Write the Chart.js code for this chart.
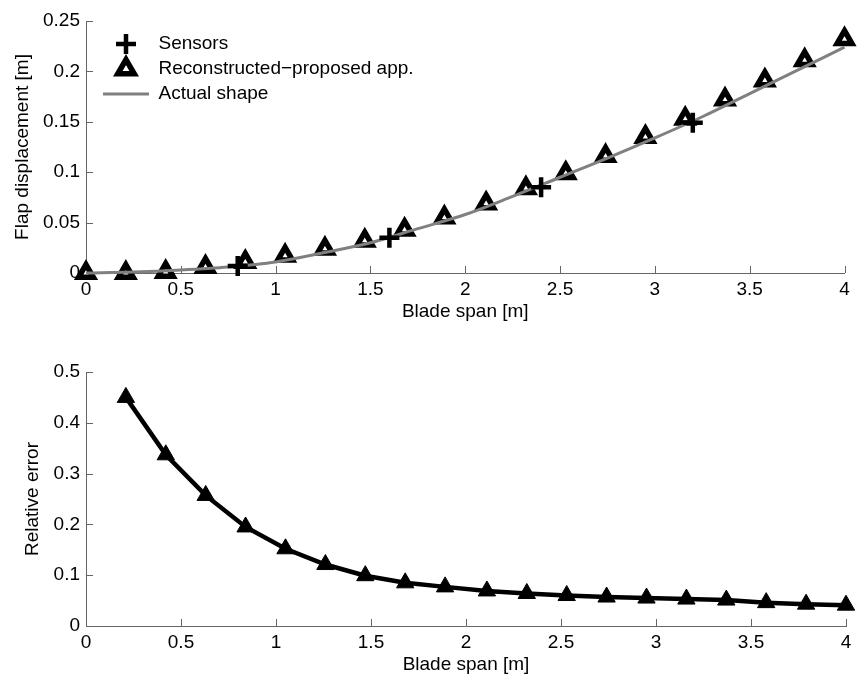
<!DOCTYPE html>
<html>
<head>
<meta charset="utf-8">
<title>Flap displacement and relative error</title>
<script src="https://cdn.jsdelivr.net/npm/chart.js@4.4.1/dist/chart.umd.min.js"></script>
<style>
body { margin: 0; background: #fff; }
#top_box { position: absolute; left: 0; top: 0; width: 859px; height: 330px; }
#bottom_box { position: absolute; left: 0; top: 330px; width: 859px; height: 349px; }
</style>
</head>
<body>
<div id="top_box"><canvas id="chart_top"></canvas></div>
<div id="bottom_box"><canvas id="chart_bottom"></canvas></div>
<script>
// blade span stations of the reconstruction [m]
var spanX   = [0, 0.21, 0.42, 0.63, 0.84, 1.05, 1.26, 1.47, 1.68, 1.89, 2.11, 2.32, 2.53, 2.74, 2.95, 3.16, 3.37, 3.58, 3.79, 4.0];
var reconY  = [0.000, 0.000, 0.001, 0.006, 0.011, 0.017, 0.024, 0.032, 0.043, 0.055, 0.069, 0.084, 0.099, 0.116, 0.135, 0.153, 0.172, 0.191, 0.211, 0.232];

var sensorX = [0.8, 1.6, 2.4, 3.2];
var sensorY = [0.007, 0.035, 0.085, 0.149];

var shapeX  = [0, 0.25, 0.5, 0.75, 1.0, 1.25, 1.5, 1.75, 2.0, 2.25, 2.5, 2.75, 3.0, 3.25, 3.5, 3.75, 4.0];
var shapeY  = [0.000, 0.001, 0.003, 0.006, 0.011, 0.020, 0.030, 0.044, 0.058, 0.076, 0.095, 0.114, 0.134, 0.155, 0.178, 0.201, 0.224];

var errorX  = [0.21, 0.42, 0.63, 0.84, 1.05, 1.26, 1.47, 1.68, 1.89, 2.11, 2.32, 2.53, 2.74, 2.95, 3.16, 3.37, 3.58, 3.79, 4.0];
var errorY  = [0.450, 0.337, 0.257, 0.195, 0.152, 0.121, 0.099, 0.085, 0.077, 0.069, 0.064, 0.060, 0.057, 0.055, 0.053, 0.051, 0.046, 0.043, 0.041];

var spanTicks  = [0, 0.5, 1, 1.5, 2, 2.5, 3, 3.5, 4];
var dispTicks  = [0, 0.05, 0.1, 0.15, 0.2, 0.25];
var errorTicks = [0, 0.1, 0.2, 0.3, 0.4, 0.5];

var axisColor = '#666';

Chart.defaults.font.family = "'Liberation Sans', Arial, Helvetica, sans-serif";
Chart.defaults.font.size = 19;
Chart.defaults.color = '#000';

function toPoints(xs, ys){
    return xs.map(function(x, i){ return {x: x, y: ys[i]}; });
}

function fixedTicks(values){
    return function(scale){
        scale.ticks = values.map(function(v){ return {value: v}; });
    };
}

function plainNumber(v){
    return String(Number(v.toFixed(4)));
}

// small marker pictures for the legend, drawn with chart.js' own point helper
function markerIcon(style, radius, lineWidth, fill){
    var c = document.createElement('canvas');
    c.width = 32;
    c.height = 32;
    var ctx = c.getContext('2d');
    ctx.strokeStyle = '#000';
    ctx.fillStyle = fill;
    ctx.lineWidth = lineWidth;
    Chart.helpers.drawPoint(ctx, {pointStyle: style, radius: radius, borderWidth: lineWidth, rotation: 0}, 16, 16);
    return c;
}
var legendIcons = {
    0: markerIcon('cross', 10, 4.5, '#000'),
    1: markerIcon('triangle', 9.5, 5.5, '#fff')
};

// matlab style ticks, drawn inward from the axis lines
var innerTicks = {
    id: 'innerTicks',
    beforeDatasetsDraw: function(chart){
        var ctx = chart.ctx, a = chart.chartArea;
        var xs = chart.scales.x, ys = chart.scales.y;
        ctx.save();
        ctx.strokeStyle = axisColor;
        ctx.lineWidth = 1;
        ctx.beginPath();
        xs.ticks.forEach(function(t){
            var px = Math.round(xs.getPixelForValue(t.value)) + 0.5;
            ctx.moveTo(px, a.bottom);
            ctx.lineTo(px, a.bottom - 7);
        });
        ys.ticks.forEach(function(t){
            var py = Math.round(ys.getPixelForValue(t.value)) + 0.5;
            ctx.moveTo(a.left, py);
            ctx.lineTo(a.left + 7, py);
        });
        ctx.stroke();
        ctx.restore();
    }
};

// put the legend box inside the axes, near the top left corner
var legendInside = {
    id: 'legendInside',
    afterLayout: function(chart){
        if (!chart.legend) return;
        chart.legend.left = chart.chartArea.left + 11;
        chart.legend.top = chart.chartArea.top + 7.5;
    }
};

function spanAxis(){
    return {
        type: 'linear',
        min: 0,
        max: 4,
        afterBuildTicks: fixedTicks(spanTicks),
        afterFit: function(scale){ scale.height = 50; },
        ticks: { padding: 5, maxRotation: 0, autoSkip: false, callback: plainNumber },
        grid: { display: false, drawTicks: false },
        border: { display: true, color: axisColor, width: 1 },
        title: { display: true, text: 'Blade span [m]', padding: {top: 0, bottom: 0} }
    };
}

function valueAxis(max, ticks, text, titlePad){
    return {
        type: 'linear',
        min: 0,
        max: max,
        afterBuildTicks: fixedTicks(ticks),
        afterFit: function(scale){ scale.width = 86; },
        ticks: { padding: 6, autoSkip: false, callback: plainNumber },
        grid: { display: false, drawTicks: false },
        border: { display: true, color: axisColor, width: 1 },
        title: { display: true, text: text, padding: {top: titlePad, bottom: 0} }
    };
}

var topChart = new Chart(document.getElementById('chart_top'), {
    type: 'scatter',
    data: {
        datasets: [{
            label: 'Sensors',
            data: toPoints(sensorX, sensorY),
            showLine: false,
            pointStyle: 'cross',
            pointRadius: 10,
            pointBorderWidth: 4.5,
            pointBorderColor: '#000',
            pointBackgroundColor: '#000',
            borderColor: '#000',
            clip: false,
            order: 0
        }, {
            label: 'Reconstructed\u2212proposed app.',
            data: toPoints(spanX, reconY),
            showLine: false,
            pointStyle: 'triangle',
            pointRadius: 8.5,
            pointBorderWidth: 5.5,
            pointBorderColor: '#000',
            pointBackgroundColor: '#fff',
            borderColor: '#000',
            clip: false,
            order: 2
        }, {
            label: 'Actual shape',
            data: toPoints(shapeX, shapeY),
            showLine: true,
            cubicInterpolationMode: 'monotone',
            borderColor: '#808080',
            borderWidth: 3,
            pointStyle: 'line',
            pointRadius: 0,
            pointBorderWidth: 3,
            pointBorderColor: '#808080',
            pointBackgroundColor: '#808080',
            clip: false,
            order: 1
        }]
    },
    options: {
        responsive: true,
        maintainAspectRatio: false,
        animation: false,
        layout: { padding: {left: 0, top: 21, right: 13, bottom: 7} },
        scales: {
            x: spanAxis(),
            y: valueAxis(0.25, dispTicks, 'Flap displacement [m]', 11)
        },
        plugins: {
            tooltip: { enabled: false },
            legend: {
                position: 'chartArea',
                align: 'start',
                labels: {
                    usePointStyle: true,
                    pointStyleWidth: 46,
                    boxHeight: 14,
                    padding: 6,
                    color: '#000',
                    font: { size: 19 },
                    generateLabels: function(chart){
                        var items = Chart.defaults.plugins.legend.labels.generateLabels(chart);
                        items.forEach(function(item){
                            if (legendIcons[item.datasetIndex]) item.pointStyle = legendIcons[item.datasetIndex];
                        });
                        return items;
                    },
                    sort: function(a, b){ return a.datasetIndex - b.datasetIndex; }
                }
            }
        }
    },
    plugins: [innerTicks, legendInside]
});

var bottomChart = new Chart(document.getElementById('chart_bottom'), {
    type: 'scatter',
    data: {
        datasets: [{
            label: 'Relative error',
            data: toPoints(errorX, errorY),
            showLine: true,
            tension: 0,
            borderColor: '#000',
            borderWidth: 4.5,
            pointStyle: 'triangle',
            pointRadius: 10,
            pointBorderWidth: 1,
            pointBorderColor: '#000',
            pointBackgroundColor: '#000',
            clip: false
        }]
    },
    options: {
        responsive: true,
        maintainAspectRatio: false,
        animation: false,
        layout: { padding: {left: 0, top: 42, right: 13, bottom: 3} },
        scales: {
            x: spanAxis(),
            y: valueAxis(0.5, errorTicks, 'Relative error', 21.5)
        },
        plugins: {
            tooltip: { enabled: false },
            legend: { display: false }
        }
    },
    plugins: [innerTicks]
});
</script>
</body>
</html>
